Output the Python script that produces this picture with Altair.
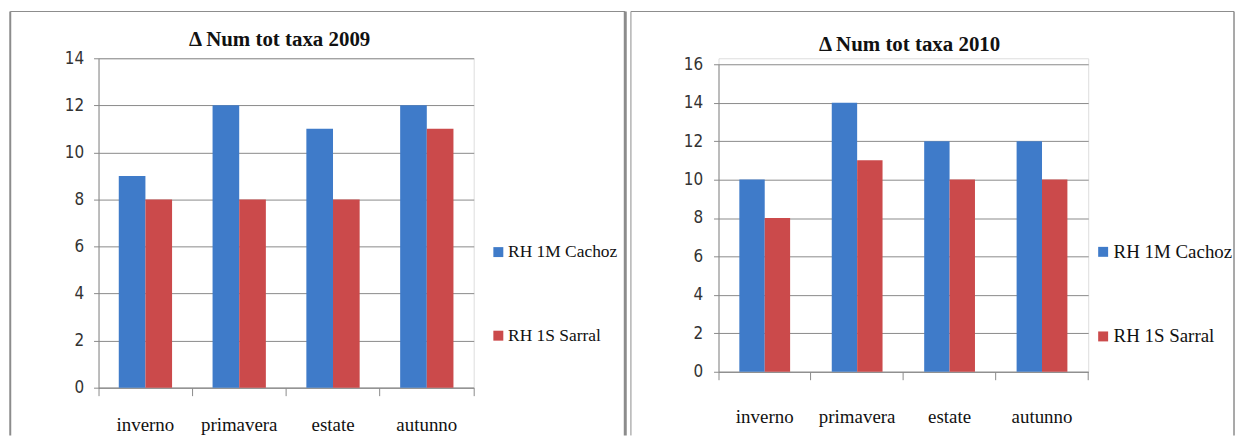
import altair as alt
import pandas as pd

# Seasons on the x axis and the two sampling stations
seasons = ["inverno", "primavera", "estate", "autunno"]
series = ["RH 1M Cachoz", "RH 1S Sarral"]

# Total number of taxa per season
cachoz_2009 = [9, 12, 11, 12]
sarral_2009 = [8, 8, 8, 11]
cachoz_2010 = [10, 14, 12, 12]
sarral_2010 = [8, 11, 10, 10]

colors = ["#3f7bc9", "#cb4a4b"]
frame_color = "#8c8c8c"
axis_color = "#8a8a8a"
serif = "Liberation Serif"
narrow = "Liberation Sans Narrow, DejaVu Sans Condensed, sans-serif"


def table(a, b):
    rows = []
    for s, va, vb in zip(seasons, a, b):
        rows.append({"stagione": s, "serie": series[0], "taxa": va})
        rows.append({"stagione": s, "serie": series[1], "taxa": vb})
    return pd.DataFrame(rows)


one = pd.DataFrame({"k": [0]})


def panel(df, title, ymax, w, h, lay):
    bars = alt.Chart(df).mark_bar().encode(
        x=alt.X(
            "stagione:N",
            sort=seasons,
            scale=alt.Scale(paddingInner=0, paddingOuter=0),
            axis=alt.Axis(
                title=None, labelAngle=0, labelFont=serif, labelFontSize=lay["xfs"],
                labelColor="#111111", labelPadding=lay["xpad"], tickSize=8,
                bandPosition=1, tickExtra=True, domainColor=axis_color,
                tickColor=axis_color, grid=False,
            ),
        ),
        xOffset=alt.XOffset(
            "serie:N", sort=series,
            scale=alt.Scale(paddingInner=0, paddingOuter=lay["po"]),
        ),
        y=alt.Y(
            "taxa:Q",
            scale=alt.Scale(domain=[0, ymax], nice=False, range=[h, lay["ytop"]]),
            axis=alt.Axis(
                title=None, values=list(range(0, ymax + 1, 2)), labelFont=narrow,
                labelFontSize=17, labelColor="#333333", labelPadding=lay["ypad"],
                tickSize=5, domainColor=axis_color, tickColor=axis_color,
                gridColor=axis_color, gridWidth=1,
            ),
        ),
        color=alt.Color(
            "serie:N",
            sort=series,
            scale=alt.Scale(domain=series, range=colors),
            legend=alt.Legend(
                title=None, orient="none", legendX=lay["lx"], legendY=lay["ly"],
                direction="vertical", labelFont=serif, labelFontSize=lay["lfs"],
                labelColor="#111111", symbolType="square", symbolSize=100,
                symbolStrokeWidth=0, rowPadding=lay["rowpad"], labelOffset=1,
                padding=0,
            ),
        ),
    )

    fl, ft, fr, fb = lay["frame"]
    left = alt.Chart(one).mark_rule(color=frame_color, strokeWidth=lay["lw"]).encode(
        x=alt.value(fl), y=alt.value(ft), y2=alt.value(fb)
    )
    top = alt.Chart(one).mark_rule(color=frame_color, strokeWidth=1).encode(
        x=alt.value(fl), x2=alt.value(fr), y=alt.value(ft)
    )
    right = alt.Chart(one).mark_rule(color=frame_color, strokeWidth=lay["rw"]).encode(
        x=alt.value(fr), y=alt.value(ft), y2=alt.value(fb)
    )
    heading = alt.Chart(one).mark_text(
        font=serif, fontSize=21, fontWeight="bold", align="center",
        baseline="alphabetic", color="#111111",
    ).encode(x=alt.value(lay["tx"]), y=alt.value(lay["ty"]), text=alt.value(title))

    return alt.layer(bars, left, top, right, heading).properties(width=w, height=h)


p2009 = panel(
    table(cachoz_2009, sarral_2009), "Δ Num tot taxa 2009", 14, 377, 331,
    dict(xfs=19, xpad=20, po=0.76, ytop=0, ypad=10, lx=393, ly=186, lfs=17.5, rowpad=65,
         frame=(-88.7, -47, 529.3, 379), lw=2, rw=3, tx=182, ty=-12),
)
p2010 = panel(
    table(cachoz_2010, sarral_2010), "Δ Num tot taxa 2010", 16, 371.5, 315,
    dict(xfs=19, xpad=28, po=0.82, ytop=6, ypad=11, lx=377, ly=185, lfs=19, rowpad=65,
         frame=(-88, -47, 518, 379), lw=1, rw=1.5, tx=192, ty=-7),
)

chart = (
    alt.hconcat(p2009, p2010, spacing=2)
    .resolve_scale(color="independent", x="independent", y="independent", xOffset="independent")
    .resolve_legend(color="independent")
    .properties(padding={"left": 8, "top": 8.5, "right": 0, "bottom": 0})
    .configure_view(stroke=None)
    .configure_legend(labelFont=serif)
    .configure(background="white")
)

chart.save("out.html", embed_options={"renderer": "svg", "actions": False})
